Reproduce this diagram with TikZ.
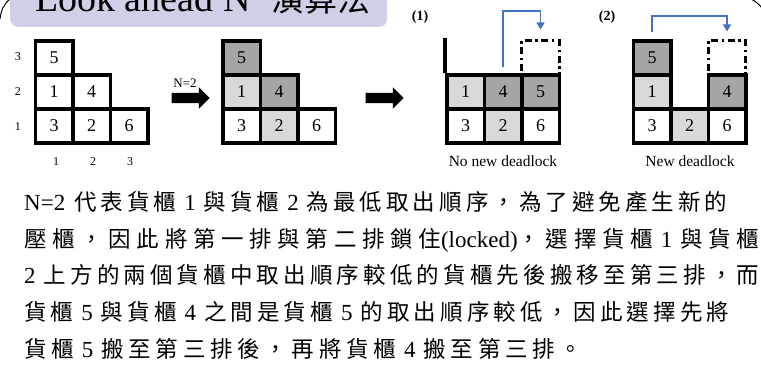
\documentclass[tikz,border=0pt]{standalone}
\usepackage{fontspec}
\setmainfont{Liberation Serif}
\newfontfamily\cjk{Noto Sans CJK TC}
\usetikzlibrary{shapes.arrows,arrows.meta}
\XeTeXinterchartokenstate=1
\newXeTeXintercharclass\CJKc
\makeatletter
\count@="4E00
\loop
\XeTeXcharclass\count@=\CJKc
\ifnum\count@<"9FFF \advance\count@ by 1 \repeat
\makeatother
\XeTeXcharclass"FF0C=\CJKc
\XeTeXcharclass"3002=\CJKc
\XeTeXinterchartoks\CJKc\CJKc={\hskip0pt plus 1fil\relax}
\definecolor{lightg}{HTML}{D9D9D9}
\definecolor{darkg}{HTML}{A5A5A5}
\definecolor{arrowblue}{HTML}{4472C4}
\definecolor{lavender}{HTML}{CFCFE8}
\newcommand\dg[1]{\hspace{8pt}{\rmfamily\fontsize{23}{23}\selectfont#1}\hspace{8pt}}
\newcommand\lat[1]{{\rmfamily\fontsize{23}{23}\selectfont#1}}
\newcommand\tl[2]{\hbox to #1pt{\cjk\fontsize{22.5}{22.5}\selectfont #2}}
\begin{document}
\begin{tikzpicture}[x=1pt,y=-1pt,
  cell/.style={draw=black,line width=3.5pt,minimum width=37.5pt,minimum height=34pt,inner sep=0pt,font=\fontsize{18}{18}\selectfont},
  wt/.style={cell,fill=white},
  lt/.style={cell,fill=lightg},
  dk/.style={cell,fill=darkg},
  hole/.style={draw=black,line width=3pt,dash pattern=on 7pt off 3.5pt on 2.5pt off 3.5pt,minimum width=37.5pt,minimum height=34pt,inner sep=0pt},
  wall/.style={draw=black,line width=3.5pt},
  flow/.style={draw=arrowblue,line width=1.6pt,-{Triangle[length=7pt,width=8pt]}},
  blk/.style={single arrow,fill=black,draw=none,minimum height=38pt,inner xsep=0pt,inner ysep=5pt,single arrow head extend=5.5pt},
  axis/.style={inner sep=0pt,font=\fontsize{12}{12}\selectfont},
  capt/.style={inner sep=0pt,font=\fontsize{15.5}{15.5}\selectfont},
  tagl/.style={inner sep=0pt,font=\fontsize{14}{14}\selectfont\bfseries},
  txt/.style={anchor=base west,inner sep=0pt}
  ]
\useasboundingbox (0,0) rectangle (761,382);
% title
\node[fill=lavender,rounded corners=8pt,minimum width=377pt,minimum height=45pt,anchor=south west,inner sep=0pt] (titlebox) at (10,27) {};
\node[txt,font=\fontsize{38}{38}\selectfont] (title) at (35,12) {Look ahead N\hspace{21pt}{\cjk\fontsize{33}{33}\selectfont 演算法}};
% page corners
\draw[line width=1pt] (0,19) .. controls (1,10) and (4,4) .. (10,-1);
\draw[line width=1pt] (751,-1) .. controls (755,1) and (759,4) .. (762,8);
% grid 1
\node[wt] (g1a) at (54,58) {5};
\node[wt] (g1b) at (54,92) {1};
\node[wt] (g1c) at (91.5,92) {4};
\node[wt] (g1d) at (54,126) {3};
\node[wt] (g1e) at (91.5,126) {2};
\node[wt] (g1f) at (129,126) {6};
\node[axis] (r3) at (18,57) {3};
\node[axis] (r2) at (18,92) {2};
\node[axis] (r1) at (18,127) {1};
\node[axis] (c1) at (56,162) {1};
\node[axis] (c2) at (93,162) {2};
\node[axis] (c3) at (130,162) {3};
% arrow 1
\node[blk] (ar1) at (188,98) {};
\node[inner sep=0pt,font=\fontsize{13}{13}\selectfont] (nlab) at (185,83) {N=2};
% grid 2
\begin{scope}[every node/.append style={font=\fontsize{15.5}{15.5}\selectfont}]
\node[dk] (g2a) at (241.5,58) {5};
\node[lt] (g2b) at (241.5,92) {1};
\node[dk] (g2c) at (279,92) {4};
\node[wt] (g2d) at (241.5,126) {3};
\node[lt] (g2e) at (279,126) {2};
\node[wt] (g2f) at (316.5,126) {6};
\end{scope}
% arrow 2
\node[blk] (ar2) at (382,98) {};
% case (1)
\node[tagl] (t1) at (420,17) {(1)};
\node[hole] (ph1) at (540.5,58) {};
\node[lt] (g3a) at (465.5,92) {1};
\node[dk] (g3b) at (503,92) {4};
\node[dk] (g3c) at (540.5,92) {5};
\node[wt] (g3d) at (465.5,126) {3};
\node[lt] (g3e) at (503,126) {2};
\node[wt] (g3f) at (540.5,126) {6};
\draw[wall] (g3a.north west) -- ++(0,-35);
\coordinate (s1) at ([yshift=6pt]g3b.north);
\draw[flow] (s1) -- ++(0,-56) -| ([yshift=10pt]ph1.north);
\node[capt] (cap1) at (503,161) {No new deadlock};
% case (2)
\node[tagl] (t2) at (607,17) {(2)};
\node[hole] (ph2) at (727,58) {};
\node[dk] (g4a) at (652,58) {5};
\node[lt] (g4b) at (652,92) {1};
\node[dk] (g4c) at (727,92) {4};
\node[wt] (g4d) at (652,126) {3};
\node[lt] (g4e) at (689.5,126) {2};
\node[wt] (g4f) at (727,126) {6};
\coordinate (s2) at ([yshift=7pt]g4a.north);
\draw[flow] (s2) -- ++(0,-16) -| ([yshift=8pt]ph2.north);
\node[capt] (cap2) at (690,161) {New deadlock};
% paragraph
\node[txt] (p1) at (24,210.5) {\tl{703}{\lat{N=2}\hspace{9pt}代表貨櫃\dg{1}與貨櫃\dg{2}為最低取出順序，為了避免產生新的}};
\node[txt] (p2) at (24,247.5) {\tl{735}{壓櫃，因此將第一排與第二排鎖住\lat{(locked)}，選擇貨櫃\dg{1}與貨櫃}};
\node[txt] (p3) at (24,284) {\tl{735}{\lat{2}\hspace{8pt}上方的兩個貨櫃中取出順序較低的貨櫃先後搬移至第三排，而}};
\node[txt] (p4) at (24,320.5) {\tl{705}{貨櫃\dg{5}與貨櫃\dg{4}之間是貨櫃\dg{5}的取出順序較低，因此選擇先將}};
\node[txt] (p5) at (24,357.5) {\tl{558}{貨櫃\dg{5}搬至第三排後，再將貨櫃\dg{4}搬至第三排。}};
\end{tikzpicture}
\end{document}
